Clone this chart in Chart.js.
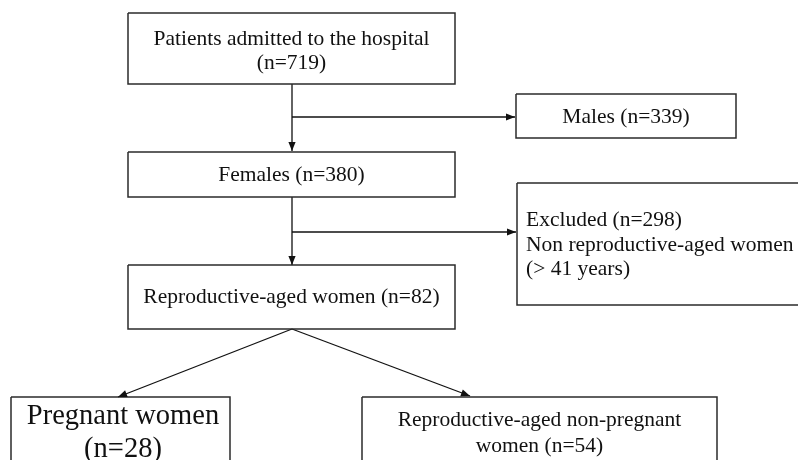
<!DOCTYPE html>
<html>
<head>
<meta charset="utf-8">
<script src="https://cdn.jsdelivr.net/npm/chart.js@4/dist/chart.umd.min.js"></script>
<style>
  html, body { margin: 0; padding: 0; background: #fff; }
  #wrap { width: 798px; height: 460px; position: relative; }
</style>
</head>
<body>
<div id="wrap"><canvas id="flow"></canvas></div>
<script>
// flow stages and their counts
const stageLabels = [
  'Patients admitted to the hospital',
  'Males',
  'Females',
  'Excluded',
  'Reproductive-aged women',
  'Pregnant women',
  'Reproductive-aged non-pregnant women'
];
const stageCounts = [719, 339, 380, 298, 82, 28, 54];
const exclusionReason = ['Non reproductive-aged women', '(> 41 years)'];

// box layout, in the units of the 798x460 frame (x, y scales)
const boxes = [
  { x0: 128, y0: 13,  x1: 455, y1: 84,  cy: 51,  size: 21.5, lh: 24, wrap: 5 },
  { x0: 516, y0: 94,  x1: 736, y1: 138, cy: 117, size: 21.5, lh: 24, wrap: 0 },
  { x0: 128, y0: 152, x1: 455, y1: 197, cy: 175, size: 21.5, lh: 24, wrap: 0 },
  { x0: 517, y0: 183, x1: 806, y1: 305, cy: 245, size: 21.5, lh: 24.5, left: 526 },
  { x0: 128, y0: 265, x1: 455, y1: 329, cy: 297, size: 21.5, lh: 24, wrap: 0 },
  { x0: 11,  y0: 397, x1: 230, y1: 470, cy: 433, size: 28.5, lh: 33, wrap: 2, cx: 123 },
  { x0: 362, y0: 397, x1: 717, y1: 470, cy: 433, size: 21.5, lh: 26, wrap: 2 }
];

// connectors: from -> to (arrow at "to")
const links = [
  [[292, 84], [292, 151]],
  [[292, 117], [515, 117]],
  [[292, 197], [292, 265]],
  [[292, 232], [516, 232]],
  [[292, 329], [118, 397]],
  [[292, 329], [470, 396]]
];

function boxLines(i) {
  if (i === 3) return [`${stageLabels[i]} (n=${stageCounts[i]})`, ...exclusionReason];
  const words = `${stageLabels[i]} (n=${stageCounts[i]})`.split(' ');
  const b = boxes[i];
  if (!b.wrap) return [words.join(' ')];
  return [words.slice(0, b.wrap).join(' '), words.slice(b.wrap).join(' ')];
}

const datasets = [];
boxes.forEach(b => {
  datasets.push({
    kind: 'box',
    data: [
      { x: b.x0, y: b.y0 }, { x: b.x1, y: b.y0 },
      { x: b.x1, y: b.y1 }, { x: b.x0, y: b.y1 }, { x: b.x0, y: b.y0 }
    ],
    showLine: true,
    borderColor: '#2b2b2b',
    borderWidth: 1.5,
    borderJoinStyle: 'miter',
    pointRadius: 0,
    fill: false
  });
});
links.forEach(l => {
  datasets.push({
    kind: 'link',
    data: l.map(p => ({ x: p[0], y: p[1] })),
    showLine: true,
    borderColor: '#111',
    borderWidth: 1.3,
    pointRadius: 0,
    fill: false
  });
});

const flowPlugin = {
  id: 'flowText',
  afterDatasetsDraw(chart) {
    const ctx = chart.ctx;
    const xs = chart.scales.x;
    const ys = chart.scales.y;
    ctx.save();

    // arrowheads at the end of each connector
    chart.data.datasets.forEach((ds, i) => {
      if (ds.kind !== 'link') return;
      const pts = chart.getDatasetMeta(i).data;
      const a = pts[pts.length - 2], b = pts[pts.length - 1];
      const ang = Math.atan2(b.y - a.y, b.x - a.x);
      const len = 9, half = 3.6;
      ctx.fillStyle = '#111';
      ctx.beginPath();
      ctx.moveTo(b.x, b.y);
      ctx.lineTo(b.x - len * Math.cos(ang) + half * Math.sin(ang), b.y - len * Math.sin(ang) - half * Math.cos(ang));
      ctx.lineTo(b.x - len * Math.cos(ang) - half * Math.sin(ang), b.y - len * Math.sin(ang) + half * Math.cos(ang));
      ctx.closePath();
      ctx.fill();
    });

    // box texts
    ctx.fillStyle = '#111';
    ctx.textBaseline = 'middle';
    boxes.forEach((b, i) => {
      const lines = boxLines(i);
      ctx.font = `${b.size}px "Liberation Serif", "Times New Roman", serif`;
      ctx.textAlign = b.left ? 'left' : 'center';
      const cx = b.left ? b.left : (b.cx || (b.x0 + b.x1) / 2);
      lines.forEach((t, k) => {
        const yv = b.cy + (k - (lines.length - 1) / 2) * b.lh;
        ctx.fillText(t, xs.getPixelForValue(cx), ys.getPixelForValue(yv));
      });
    });
    ctx.restore();
  }
};

new Chart(document.getElementById('flow'), {
  type: 'scatter',
  data: { datasets },
  options: {
    responsive: true,
    maintainAspectRatio: false,
    animation: false,
    layout: { padding: 0 },
    plugins: { legend: { display: false }, tooltip: { enabled: false } },
    scales: {
      x: { type: 'linear', min: 0, max: 798, display: false },
      y: { type: 'linear', min: 0, max: 460, reverse: true, display: false }
    }
  },
  plugins: [flowPlugin]
});
</script>
</body>
</html>
